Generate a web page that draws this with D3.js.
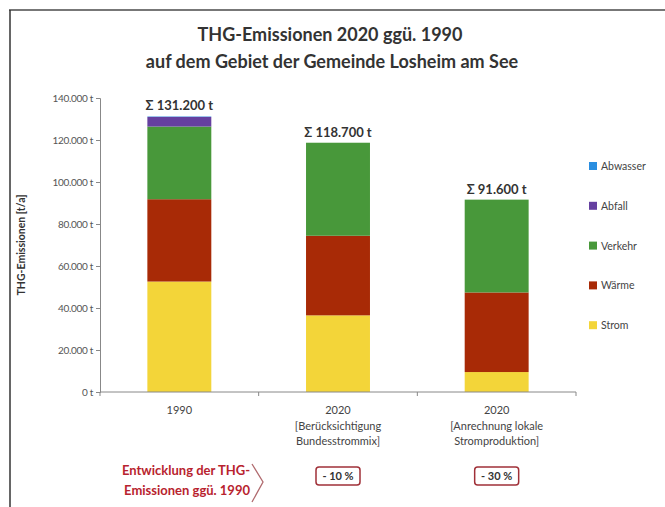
<!DOCTYPE html>
<html>
<head>
<meta charset="utf-8">
<script src="https://cdn.jsdelivr.net/npm/d3@7"></script>
<style>
  html, body { margin: 0; padding: 0; background: #fff; }
  svg { display: block; font-family: Lato, "Open Sans", sans-serif; }
</style>
</head>
<body>
<svg id="chart" width="665" height="507"></svg>
<script>
/* chart values */
const categories = ['1990', '2020 BM', '2020 LS']
const categoryLabels = [
  ['1990'],
  ['2020', '[Berücksichtigung', 'Bundesstrommix]'],
  ['2020', '[Anrechnung lokale', 'Stromproduktion]']
]
const seriesNames = ['Strom', 'Wärme', 'Verkehr', 'Abfall', 'Abwasser']
const strom = [52600, 36500, 9500]
const waerme = [39200, 37900, 37900]
const verkehr = [34600, 44300, 44200]
const abfall = [4600, 0, 0]
const abwasser = [200, 0, 0]
const yTicks = [0, 20000, 40000, 60000, 80000, 100000, 120000, 140000]

const colors = {
  Strom: '#f3d539',
  'Wärme': '#a82a06',
  Verkehr: '#48983a',
  Abfall: '#6540a0',
  Abwasser: '#2a8ee0'
}

const seriesValues = [strom, waerme, verkehr, abfall, abwasser]
const rows = categories.map((c, i) => {
  const row = { cat: c }
  seriesNames.forEach((s, j) => (row[s] = seriesValues[j][i]))
  return row
})
const totals = rows.map(r => d3.sum(seriesNames, s => r[s]))

const de = d3.formatLocale({ decimal: ',', thousands: '.', grouping: [3], currency: ['', ' €'] })
const fmt = de.format(',d')

const svg = d3.select('#chart')

/* frame lines */
svg.append('line').attr('x1', 9).attr('x2', 665).attr('y1', 10).attr('y2', 10)
  .attr('stroke', '#777').attr('stroke-width', 2)
svg.append('line').attr('x1', 10).attr('x2', 10).attr('y1', 10).attr('y2', 507)
  .attr('stroke', '#333').attr('stroke-width', 1.5)

/* title */
svg.append('text').attr('x', 330).attr('y', 41).attr('text-anchor', 'middle')
  .attr('font-size', 18).attr('font-weight', 'bold').attr('fill', '#333')
  .text('THG-Emissionen 2020 ggü. 1990')
svg.append('text').attr('x', 332).attr('y', 68).attr('text-anchor', 'middle')
  .attr('font-size', 18).attr('font-weight', 'bold').attr('fill', '#333')
  .text('auf dem Gebiet der Gemeinde Losheim am See')

/* scales */
const x = d3.scaleBand().domain(categories).range([100, 576])
  .paddingInner(0.597).paddingOuter(0.2985)
const y = d3.scaleLinear().domain([0, 140000]).range([392, 98])

/* y axis */
const yAxis = svg.append('g').attr('transform', 'translate(100,0)')
  .call(d3.axisLeft(y).tickValues(yTicks).tickSize(4).tickPadding(3)
    .tickFormat(d => fmt(d) + ' t'))
yAxis.select('.domain').attr('stroke', '#888')
yAxis.selectAll('.tick line').attr('stroke', '#888')
yAxis.selectAll('.tick text').attr('font-size', 10).attr('fill', '#555')
  .attr('font-family', 'Lato, sans-serif').attr('letter-spacing', '-0.3')

svg.append('text')
  .attr('transform', 'translate(25,245) rotate(-90)')
  .attr('text-anchor', 'middle').attr('font-size', 10.5).attr('font-weight', 'bold')
  .attr('fill', '#333').text('THG-Emissionen [t/a]')

/* stacked bars */
const stack = d3.stack().keys(seriesNames)(rows)
svg.append('g').selectAll('g').data(stack).join('g')
  .attr('fill', d => colors[d.key])
  .selectAll('rect').data(d => d).join('rect')
  .attr('x', d => x(d.data.cat))
  .attr('width', x.bandwidth())
  .attr('y', d => y(d[1]))
  .attr('height', d => y(d[0]) - y(d[1]))

/* x axis with ticks between categories */
const step = x.step()
svg.append('line').attr('x1', 100).attr('x2', 576).attr('y1', y(0)).attr('y2', y(0))
  .attr('stroke', '#888')
const bounds = d3.range(categories.length + 1).map(i => 100 + i * step)
svg.append('g').selectAll('line').data(bounds).join('line')
  .attr('x1', d => d).attr('x2', d => d)
  .attr('y1', y(0)).attr('y2', y(0) + 4).attr('stroke', '#888')

const xl = svg.append('g').selectAll('text').data(categories).join('text')
  .attr('x', d => x(d) + x.bandwidth() / 2)
  .attr('y', 414).attr('text-anchor', 'middle')
  .attr('font-size', 11).attr('fill', '#444')
xl.selectAll('tspan').data((d, i) => categoryLabels[i]).join('tspan')
  .attr('x', function () { return this.parentNode.getAttribute('x') })
  .attr('dy', (d, i) => (i === 0 ? 0 : 15.5))
  .text(d => d)

/* totals above bars */
svg.append('g').selectAll('text').data(categories).join('text')
  .attr('x', d => x(d) + x.bandwidth() / 2)
  .attr('y', (d, i) => y(totals[i]) - 6)
  .attr('text-anchor', 'middle').attr('font-size', 13).attr('font-weight', 'bold')
  .attr('fill', '#333')
  .text((d, i) => 'Σ ' + fmt(totals[i]) + ' t')

/* legend, top entry first */
const legendOrder = seriesNames.slice().reverse()
const lg = svg.append('g').selectAll('g').data(legendOrder).join('g')
  .attr('transform', (d, i) => `translate(589,${166 + i * 39.8})`)
lg.append('rect').attr('x', 0).attr('y', -4).attr('width', 8).attr('height', 8)
  .attr('fill', d => colors[d])
lg.append('text').attr('x', 12).attr('y', 4).attr('font-size', 10.5).attr('fill', '#444')
  .text(d => d)

/* development vs 1990 */
const red = '#b8232e'
svg.append('text').attr('x', 250).attr('y', 475).attr('text-anchor', 'end')
  .attr('font-size', 13).attr('font-weight', 'bold').attr('fill', red)
  .text('Entwicklung der THG-')
svg.append('text').attr('x', 250).attr('y', 495).attr('text-anchor', 'end')
  .attr('font-size', 13).attr('font-weight', 'bold').attr('fill', red)
  .text('Emissionen ggü. 1990')
svg.append('path').attr('d', 'M252,464 L263,482 L252,502')
  .attr('fill', 'none').attr('stroke', '#b06a6e').attr('stroke-width', 1.3)

const changes = totals.map(t => Math.round((t / totals[0] - 1) * 100))
const boxes = svg.append('g').selectAll('g')
  .data(categories.slice(1).map((c, i) => ({ cat: c, pct: changes[i + 1] })))
  .join('g')
  .attr('transform', d => `translate(${x(d.cat) + x.bandwidth() / 2},476)`)
boxes.append('rect').attr('x', -22).attr('y', -9).attr('width', 44).attr('height', 18)
  .attr('rx', 3).attr('fill', '#fff').attr('stroke', '#a03038').attr('stroke-width', 1.5)
boxes.append('text').attr('y', 4).attr('text-anchor', 'middle')
  .attr('font-size', 11).attr('font-weight', 'bold').attr('fill', '#333')
  .text(d => '- ' + Math.abs(d.pct) + ' %')
</script>
</body>
</html>
